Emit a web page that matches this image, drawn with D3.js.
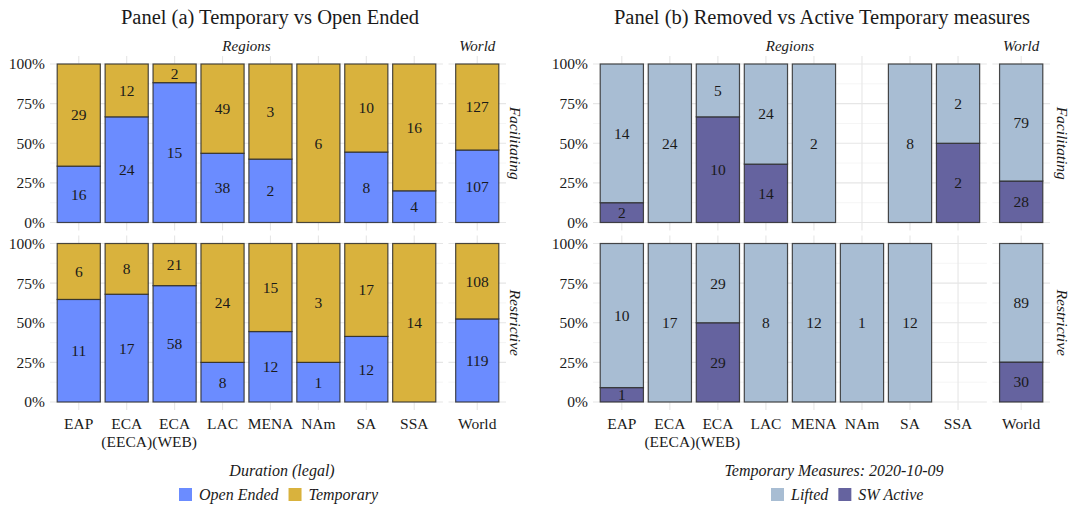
<!DOCTYPE html>
<html>
<head>
<meta charset="utf-8">
<script src="https://cdn.jsdelivr.net/npm/d3@7"></script>
<style>
  html, body { margin: 0; padding: 0; background: #fff; }
  svg { display: block; }
  text { font-family: "Liberation Serif", "DejaVu Serif", serif; fill: #1a1a1a; }
</style>
</head>
<body>
<svg id="chart" width="1078" height="505"></svg>
<script>
// ---------------- DATA ----------------
const regions = ["EAP", "ECA\n(EECA)", "ECA\n(WEB)", "LAC", "MENA", "NAm", "SA", "SSA"];
const worldCats = ["World"];
const rowLabels = ["Facilitating", "Restrictive"];
const yTickValues = [0, 0.25, 0.5, 0.75, 1];
const yTickLabels = ["0%", "25%", "50%", "75%", "100%"];

// Panel (a): counts per category (8 regions + World)
const aOpenFacilitating = [16, 24, 15, 38, 2, 0, 8, 4, 107];
const aTempFacilitating = [29, 12, 2, 49, 3, 6, 10, 16, 127];
const aOpenRestrictive  = [11, 17, 58, 8, 12, 1, 12, 0, 119];
const aTempRestrictive  = [6, 8, 21, 24, 15, 3, 17, 14, 108];

// Panel (b): null = no bar
const bActiveFacilitating = [2, 0, 10, 14, 0, null, 0, 2, 28];
const bLiftedFacilitating = [14, 24, 5, 24, 2, null, 8, 2, 79];
const bActiveRestrictive  = [1, 0, 29, 0, 0, 0, 0, null, 30];
const bLiftedRestrictive  = [10, 17, 29, 8, 12, 1, 12, null, 89];

const panelTitles = ["Panel (a) Temporary vs Open Ended", "Panel (b) Removed vs Active Temporary measures"];
const legendTitles = ["Duration (legal)", "Temporary Measures: 2020-10-09"];
const legendLabelsA = ["Open Ended", "Temporary"];
const legendLabelsB = ["Lifted", "SW Active"];

const colOpen = "#6b8cff", colTemp = "#d9b23d";
const colLifted = "#a8bdd3", colActive = "#65639f";

// ---------------- LAYOUT ----------------
const svg = d3.select("#chart");
const rowsY = [[64, 222.5], [243.5, 402]]; // [y of 100%, y of 0%]
const gap = 5.5;

function drawPanel(cfg) {
  const g = svg.append("g");
  const step = (cfg.right - cfg.left - gap) / 9.4;
  const regRange = [cfg.left, cfg.left + 8.2 * step];
  const worldRange = [regRange[1] + gap, cfg.right];
  const xReg = d3.scaleBand().domain(regions).range(regRange).paddingInner(0.1).paddingOuter(0.15);
  const xWorld = d3.scaleBand().domain(worldCats).range(worldRange).paddingInner(0.1).paddingOuter(0.15);
  const facets = [{x: xReg, cats: regions, off: 0, range: regRange, name: "Regions"},
                  {x: xWorld, cats: worldCats, off: 8, range: worldRange, name: "World"}];

  // title
  g.append("text").attr("x", cfg.titleX).attr("y", 24).attr("text-anchor", "middle")
    .style("font-size", "20.5px").text(cfg.title);

  // top strips
  facets.forEach(f => {
    g.append("text").attr("x", (f.range[0] + f.range[1]) / 2).attr("y", 51)
      .attr("text-anchor", "middle").style("font-size", "15px").style("font-style", "italic").text(f.name);
  });

  cfg.rows.forEach((row, ri) => {
    const [yTop, yBot] = rowsY[ri];
    const y = d3.scaleLinear().domain([0, 1]).range([yBot, yTop]);
    const pTop = y(1.05), pBot = y(-0.05);

    facets.forEach(f => {
      // minor grid
      [0.125, 0.375, 0.625, 0.875].forEach(v => {
        g.append("line").attr("x1", f.range[0]).attr("x2", f.range[1]).attr("y1", y(v)).attr("y2", y(v))
          .attr("stroke", "#f2f2f2").attr("stroke-width", 0.8);
      });
      // major grid
      yTickValues.forEach(v => {
        g.append("line").attr("x1", f.range[0]).attr("x2", f.range[1]).attr("y1", y(v)).attr("y2", y(v))
          .attr("stroke", "#e6e6e6").attr("stroke-width", 1.1);
      });
      f.cats.forEach(c => {
        const cx = f.x(c) + f.x.bandwidth() / 2;
        g.append("line").attr("x1", cx).attr("x2", cx).attr("y1", pTop).attr("y2", pBot)
          .attr("stroke", "#e6e6e6").attr("stroke-width", 1.1);
      });
      // bars
      f.cats.forEach((c, i) => {
        const idx = i + f.off;
        const lo = row.bottom[idx], hi = row.top[idx];
        if (lo === null || hi === null) return;
        const tot = lo + hi;
        if (tot === 0) return;
        const p = lo / tot;
        const x0 = f.x(c), w = f.x.bandwidth();
        const segs = [{a: 0, b: p, v: lo, col: cfg.colBottom}, {a: p, b: 1, v: hi, col: cfg.colTop}];
        segs.forEach(s => {
          if (s.v <= 0) return;
          g.append("rect").attr("x", x0).attr("width", w)
            .attr("y", y(s.b)).attr("height", y(s.a) - y(s.b))
            .attr("fill", s.col).attr("stroke", "#2b2b2b").attr("stroke-opacity", 0.85).attr("stroke-width", 1.2);
        });
        segs.forEach(s => {
          if (s.v <= 0) return;
          g.append("text").attr("x", x0 + w / 2).attr("y", y((s.a + s.b) / 2))
            .attr("dy", "0.35em").attr("text-anchor", "middle").style("font-size", "15.5px").text(s.v);
        });
      });
    });

    // y axis labels
    const yAxis = d3.axisLeft(y).tickValues(yTickValues).tickFormat((d, i) => yTickLabels[i]).tickSize(0).tickPadding(0);
    const ay = g.append("g").attr("transform", `translate(${cfg.left - 5},0)`).call(yAxis);
    ay.select(".domain").remove();
    ay.selectAll("text").style("font-size", "15.5px").attr("font-family", null).attr("fill", "#1a1a1a");

    // right strip
    const sx = cfg.right + cfg.stripOff, sy = (pTop + pBot) / 2;
    g.append("text").attr("transform", `translate(${sx},${sy}) rotate(90)`)
      .attr("text-anchor", "middle").attr("dy", "0.3em").style("font-size", "15.5px").style("font-style", "italic")
      .text(rowLabels[ri]);
  });

  // x axis labels
  facets.forEach(f => {
    const ax = d3.axisBottom(f.x).tickSize(0).tickPadding(0).tickFormat(() => "");
    const gx = g.append("g").attr("transform", `translate(0,${rowsY[1][1] + 8})`).call(ax);
    gx.select(".domain").remove();
    gx.selectAll(".tick").each(function(d) {
      const t = d3.select(this).select("text").attr("font-size", null).attr("font-family", null)
        .attr("fill", "#1a1a1a").attr("dy", null).attr("y", 0);
      d.split("\n").forEach((ln, k) => {
        t.append("tspan").attr("x", 0).attr("y", 19 + k * 18).style("font-size", "15.5px").text(ln);
      });
    });
  });

  // legend
  const lg = g.append("g");
  lg.append("text").attr("x", cfg.legTitleX).attr("y", 476).attr("text-anchor", "middle")
    .style("font-size", "16px").style("font-style", "italic").text(cfg.legendTitle);
  let lx = cfg.legX;
  cfg.legendItems.forEach((it, k) => {
    lg.append("rect").attr("x", lx).attr("y", 488).attr("width", 13).attr("height", 13).attr("fill", it.col);
    const t = lg.append("text").attr("x", lx + 20).attr("y", 500).style("font-size", "16px")
      .style("font-style", "italic").text(it.label);
    lx += 20 + t.node().getComputedTextLength() + 10;
  });
}

drawPanel({
  left: 50, right: 506, titleX: 270, title: panelTitles[0], stripOff: 9,
  colBottom: colOpen, colTop: colTemp,
  rows: [{bottom: aOpenFacilitating, top: aTempFacilitating},
         {bottom: aOpenRestrictive, top: aTempRestrictive}],
  legendTitle: legendTitles[0], legTitleX: 282, legX: 179,
  legendItems: [{label: legendLabelsA[0], col: colOpen}, {label: legendLabelsA[1], col: colTemp}]
});
drawPanel({
  left: 593, right: 1050, titleX: 822, title: panelTitles[1], stripOff: 12,
  colBottom: colActive, colTop: colLifted,
  rows: [{bottom: bActiveFacilitating, top: bLiftedFacilitating},
         {bottom: bActiveRestrictive, top: bLiftedRestrictive}],
  legendTitle: legendTitles[1], legTitleX: 834, legX: 771,
  legendItems: [{label: legendLabelsB[0], col: colLifted}, {label: legendLabelsB[1], col: colActive}]
});
</script>
</body>
</html>
